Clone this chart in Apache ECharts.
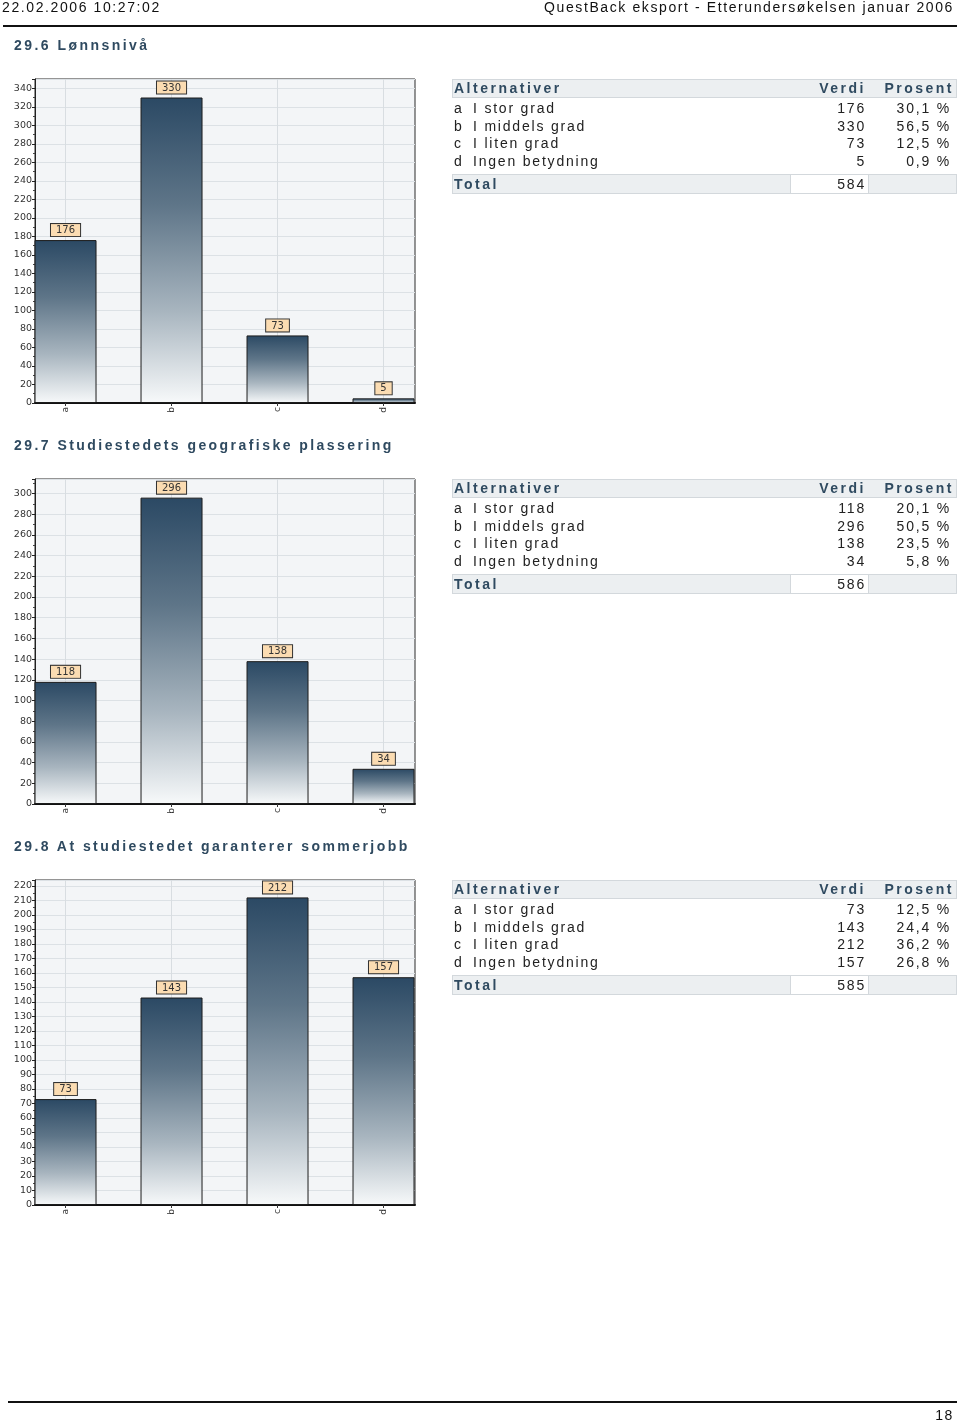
<!DOCTYPE html>
<html>
<head>
<meta charset="utf-8">
<script src="https://cdn.jsdelivr.net/npm/echarts@6/dist/echarts.min.js"></script>
<style>
  body { margin: 0; background: #fff; }
  #page { position: relative; width: 960px; height: 1422px; overflow: hidden; font-family: "Liberation Sans", Arial, sans-serif; }
  #chart { position: absolute; left: 0; top: 0; width: 960px; height: 1422px; }
  .t { position: absolute; white-space: nowrap; font-size: 14px; line-height: 16px; color: #222; letter-spacing: 1.8px; }
  .hd { color: #111; letter-spacing: 1.6px; }
  .title { font-weight: bold; color: #2f4a60; letter-spacing: 2.45px; }
  .th { font-weight: bold; color: #2f4a60; letter-spacing: 2.5px; }
  .box { position: absolute; background: #eceff1; border: 1px solid #d3d8dc; box-sizing: border-box; }
  .cell { position: absolute; box-sizing: border-box; border: 1px solid #d3d8dc; }
  .rule { position: absolute; background: #111; }
</style>
</head>
<body>
<div id="page">
  <div id="chart"></div>
</div>
<script>
// question data
var categories = ["a", "b", "c", "d"];
var altLabels = ["I stor grad", "I middels grad", "I liten grad", "Ingen betydning"];

var titles = [
  "29.6 Lønnsnivå",
  "29.7 Studiestedets geografiske plassering",
  "29.8 At studiestedet garanterer sommerjobb"
];

var values1 = [176, 330, 73, 5];
var values2 = [118, 296, 138, 34];
var values3 = [73, 143, 212, 157];

var percent1 = ["30,1 %", "56,5 %", "12,5 %", "0,9 %"];
var percent2 = ["20,1 %", "50,5 %", "23,5 %", "5,8 %"];
var percent3 = ["12,5 %", "24,4 %", "36,2 %", "26,8 %"];

var totals = [584, 586, 585];

// y axis extents and steps
var yMax = [350, 314, 224];
var yStep = [20, 20, 10];

var allValues = [values1, values2, values3];
var allPercents = [percent1, percent2, percent3];

// layout
var gridTops = [79, 479, 880];
var gridHeights = [324, 325, 325];

var page = document.getElementById("page");

function addText(txt, cls, x, y, opts) {
  var d = document.createElement("div");
  d.className = "t " + (cls || "");
  d.textContent = txt;
  d.style.top = (y - 8) + "px";
  if (opts && opts.right !== undefined) {
    d.style.right = (960 - opts.right) + "px";
    d.style.textAlign = "right";
  } else {
    d.style.left = x + "px";
  }
  page.appendChild(d);
  return d;
}

function addBox(cls, x, y, w, h, bg) {
  var d = document.createElement("div");
  d.className = cls;
  d.style.left = x + "px";
  d.style.top = y + "px";
  d.style.width = w + "px";
  d.style.height = h + "px";
  if (bg) d.style.background = bg;
  page.appendChild(d);
}

// page header and footer
addText("22.02.2006 10:27:02", "hd", 2, 7);
addText("QuestBack eksport - Etterundersøkelsen januar 2006", "hd", 0, 7, { right: 954 });
addBox("rule", 3, 25, 954, 2);
addBox("rule", 8, 1401, 949, 2);
addText("18", "hd", 0, 1415, { right: 954 });

// titles and tables
for (var i = 0; i < 3; i++) {
  var T = gridTops[i];
  addText(titles[i], "title", 14, T - 34);

  addBox("box", 452, T, 505, 19);
  addText("Alternativer", "th", 454, T + 9);
  addText("Verdi", "th", 0, T + 9, { right: 866 });
  addText("Prosent", "th", 0, T + 9, { right: 954 });

  for (var k = 0; k < 4; k++) {
    var y = T + 29 + Math.round(k * 17.7);
    addText(categories[k], "", 454, y);
    addText(altLabels[k], "", 473, y);
    addText(String(allValues[i][k]), "", 0, y, { right: 866 });
    addText(allPercents[i][k], "", 0, y, { right: 951 });
  }

  addBox("cell", 452, T + 95, 339, 20, "#eceff1");
  addBox("cell", 790, T + 95, 79, 20, "#ffffff");
  addBox("cell", 868, T + 95, 89, 20, "#eceff1");
  addText("Total", "th", 454, T + 105);
  addText(String(totals[i]), "", 0, T + 105, { right: 866 });
}

// charts
var chart = echarts.init(document.getElementById("chart"), null, { renderer: "canvas" });

var barGradient = {
  type: "linear", x: 0, y: 0, x2: 0, y2: 1,
  colorStops: [
    { offset: 0, color: "#2b4964" },
    { offset: 0.35, color: "#5e7588" },
    { offset: 0.7, color: "#a8b5bf" },
    { offset: 1, color: "#f7f9fa" }
  ]
};

var grids = [], xAxes = [], yAxes = [], series = [];

for (var g = 0; g < 3; g++) {
  grids.push({
    left: 35, top: gridTops[g], width: 380, height: gridHeights[g],
    show: true, backgroundColor: "#f3f5f7", borderColor: "#2a2a2a", borderWidth: 1
  });

  xAxes.push({
    gridIndex: g, type: "value", min: -0.288, max: 3.297,
    splitLine: { show: false },
    axisLine: { show: true, onZero: false, lineStyle: { color: "#111", width: 2 } },
    axisTick: { show: true, customValues: [0, 1, 2, 3], length: 3, lineStyle: { color: "#333" } },
    axisLabel: {
      customValues: [0, 1, 2, 3],
      formatter: function (v) { return categories[Math.round(v)]; },
      rotate: 90, fontSize: 9, color: "#333", margin: 4, fontFamily: "DejaVu Sans"
    }
  });

  (function (step) {
    yAxes.push({
      gridIndex: g, type: "value", min: 0, max: yMax[g], interval: step,
      axisLine: { show: true, onZero: false, lineStyle: { color: "#222" } },
      axisTick: { show: true, length: 3, lineStyle: { color: "#222" } },
      minorTick: { show: true, splitNumber: 2, length: 2, lineStyle: { color: "#444" } },
      axisLabel: {
        fontSize: 9.5, color: "#333", margin: 3, fontFamily: "DejaVu Sans",
        formatter: function (v) { return v % step === 0 ? String(v) : ""; }
      },
      splitLine: { show: true, lineStyle: { color: "#dce1e5" } }
    });
  })(yStep[g]);

  // vertical grid lines at category centres, behind the bars
  (function (top) {
    series.push({
      type: "custom", xAxisIndex: g, yAxisIndex: g, z: 1, silent: true,
      data: [0, 1, 2, 3],
      renderItem: function (params, api) {
        var x = api.value(0);
        var p0 = api.coord([x, 0]);
        var p1 = api.coord([x, top]);
        return {
          type: "line",
          shape: { x1: p0[0], y1: p0[1], x2: p1[0], y2: p1[1] },
          style: { stroke: "#d8dde1", lineWidth: 1 }
        };
      }
    });
  })(yMax[g]);

  series.push({
    type: "bar", xAxisIndex: g, yAxisIndex: g, z: 3,
    barWidth: 62,
    data: allValues[g].map(function (v, k) { return [k, v]; }),
    itemStyle: { color: barGradient, borderColor: "#1c1c1c", borderWidth: 1 },
    label: {
      show: true, position: "top", distance: 4,
      formatter: function (p) { return String(p.value[1]); },
      backgroundColor: "#fbdcb2", borderColor: "#333", borderWidth: 1,
      padding: [1, 5, 0, 5], fontSize: 10, lineHeight: 11,
      color: "#333", fontFamily: "DejaVu Sans"
    }
  });
}

chart.setOption({
  animation: false,
  grid: grids,
  xAxis: xAxes,
  yAxis: yAxes,
  series: series
});
</script>
</body>
</html>
